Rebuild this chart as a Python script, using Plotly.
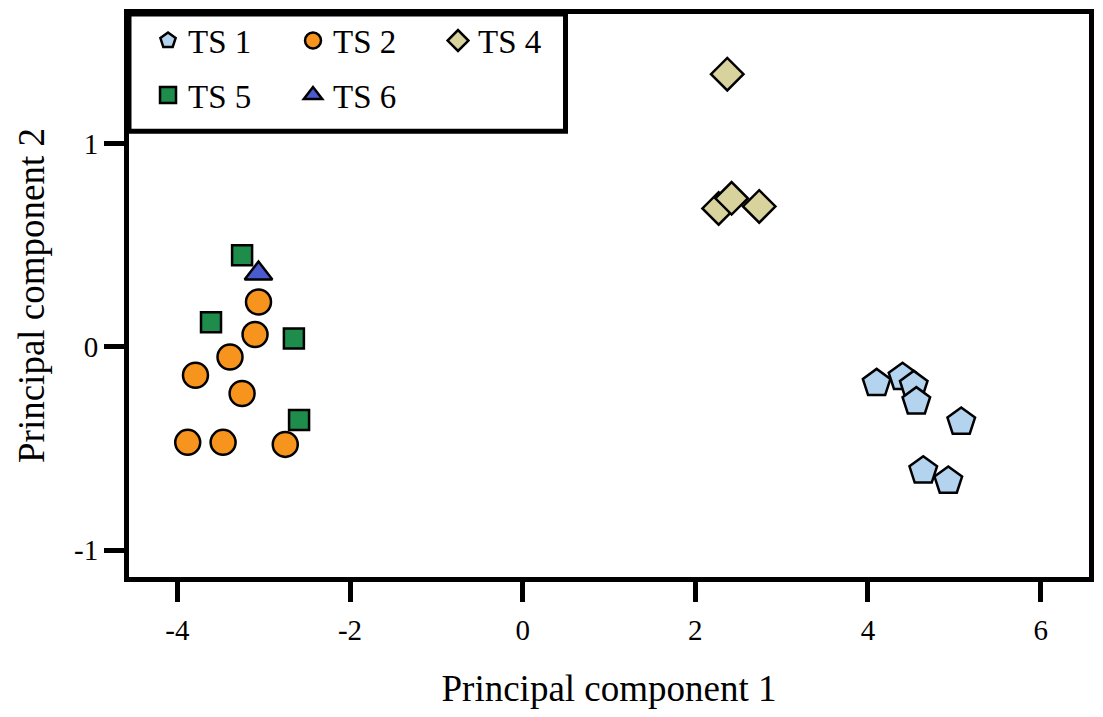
import plotly.graph_objects as go

# PCA scores
ts1_x = [4.10, 4.40, 4.53, 4.56, 5.08, 4.64, 4.93]
ts1_y = [-0.18, -0.15, -0.19, -0.27, -0.37, -0.61, -0.66]

ts2_x = [-3.06, -3.10, -3.39, -3.79, -3.25, -3.88, -3.47, -2.75]
ts2_y = [0.22, 0.06, -0.05, -0.14, -0.23, -0.47, -0.47, -0.48]

ts4_x = [2.37, 2.27, 2.42, 2.74]
ts4_y = [1.34, 0.68, 0.73, 0.69]

ts5_x = [-3.25, -3.61, -2.65, -2.59]
ts5_y = [0.45, 0.12, 0.04, -0.36]

ts6_x = [-3.06]
ts6_y = [0.36]

x_ticks = [-4, -2, 0, 2, 4, 6]
y_ticks = [-1, 0, 1]

serif = "Liberation Serif"

series = [
    ("TS 1", ts1_x, ts1_y, "pentagon", 29, "#b3d3ef", "legend"),
    ("TS 2", ts2_x, ts2_y, "circle", 25, "#f7941d", "legend"),
    ("TS 4", ts4_x, ts4_y, "diamond", 25, "#d8d29c", "legend"),
    ("TS 5", ts5_x, ts5_y, "square", 20, "#1e8c4a", "legend2"),
    ("TS 6", ts6_x, ts6_y, "triangle-up", 24, "#4a5bd0", "legend2"),
]

fig = go.Figure()
for name, xs, ys, sym, size, col, leg in series:
    fig.add_trace(go.Scatter(
        x=xs, y=ys, mode="markers", name=name, legend=leg,
        marker=dict(symbol=sym, size=size, color=col,
                    line=dict(color="black", width=2.5)),
    ))

axis_style = dict(
    showline=True, linecolor="black", linewidth=5, mirror=True,
    ticks="outside", ticklen=20, tickwidth=5, tickcolor="black",
    showgrid=False, zeroline=False,
    tickfont=dict(family=serif, size=29, color="black"),
    title_font=dict(family=serif, size=37, color="black"),
)

fig.update_xaxes(axis_style, range=[-4.56, 6.56], tickvals=x_ticks,
                 ticktext=[str(v) for v in x_ticks], ticklabelstandoff=3,
                 title_text="Principal component 1", title_standoff=36)
fig.update_yaxes(axis_style, range=[-1.132, 1.636], tickvals=y_ticks,
                 ticktext=[str(v) for v in y_ticks],
                 title_text="Principal component 2", title_standoff=20)

leg_common = dict(
    orientation="h", xref="paper", yref="paper", x=0.0198, xanchor="left",
    yanchor="middle", bgcolor="rgba(0,0,0,0)", borderwidth=0,
    entrywidth=100, entrywidthmode="pixels",
    font=dict(family=serif, size=33, color="black"),
)

# the page body has an 8px margin, so the figure is sized to fit the window
fig.update_layout(
    width=1087, height=701,
    margin=dict(l=121, r=5, t=1, b=129),
    font=dict(family=serif, color="black"),
    plot_bgcolor="white", paper_bgcolor="white",
    legend=dict(leg_common, y=0.9528),
    legend2=dict(leg_common, y=0.856),
    shapes=[dict(type="rect", xref="paper", yref="paper",
                 x0=0, x1=0.4547, y0=0.7916, y1=1,
                 line=dict(color="black", width=5))],
)

fig.write_html("out.html")
